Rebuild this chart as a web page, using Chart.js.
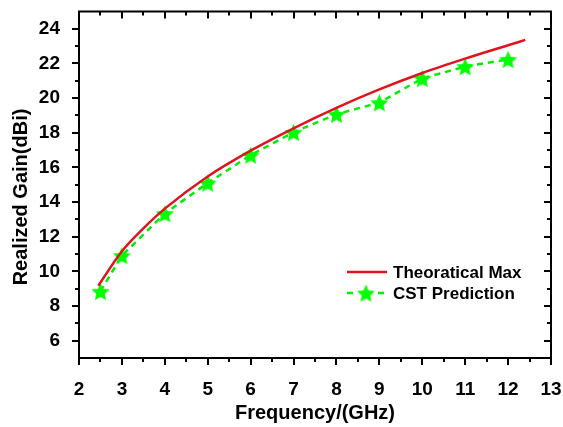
<!DOCTYPE html>
<html>
<head>
<meta charset="utf-8">
<script src="https://cdn.jsdelivr.net/npm/chart.js@4"></script>
<style>
  html, body { margin: 0; padding: 0; background: #fff; }
  #wrap { width: 563px; height: 427px; }
</style>
</head>
<body>
<div id="wrap"><canvas id="gainChart" width="563" height="427"></canvas></div>
<script>
// values
const theoFreq = [2.45, 3, 3.5, 4, 5, 6, 7, 8, 9, 10, 11, 12, 12.4];
const theoGain = [9.17, 11.16, 12.48, 13.62, 15.48, 16.97, 18.26, 19.44, 20.5, 21.45, 22.28, 23.05, 23.36];
const cstFreq = [2.5, 3, 4, 5, 6, 7, 8, 9, 10, 11, 12];
const cstGain = [8.85, 10.91, 13.34, 15.10, 16.71, 18.03, 19.07, 19.74, 21.14, 21.82, 22.24];

const xTicks = [2, 3, 4, 5, 6, 7, 8, 9, 10, 11, 12, 13];
const xMinor = [2.5, 3.5, 4.5, 5.5, 6.5, 7.5, 8.5, 9.5, 10.5, 11.5, 12.5];
const yTicks = [6, 8, 10, 12, 14, 16, 18, 20, 22, 24];
const yMinor = [7, 9, 11, 13, 15, 17, 19, 21, 23];

const seriesNames = ['Theoratical Max', 'CST Prediction'];
const xTitle = 'Frequency/(GHz)';
const yTitle = 'Realized Gain(dBi)';

const FONT = '"Liberation Sans", Arial, sans-serif';
const RED = '#e0141e';
const GREEN = '#00ee00';

// filled five point star used as point marker
function makeStar(r) {
    const c = document.createElement('canvas');
    const s = Math.ceil(r * 2 + 2);
    c.width = s; c.height = s;
    const g = c.getContext('2d');
    g.translate(s / 2, s / 2 + 1);
    g.beginPath();
    for (let i = 0; i < 10; i++) {
        const rad = i % 2 === 0 ? r : r * 0.47;
        const a = -Math.PI / 2 + i * Math.PI / 5;
        g.lineTo(rad * Math.cos(a), rad * Math.sin(a));
    }
    g.closePath();
    g.fillStyle = '#00ff00';
    g.fill();
    return c;
}
const starImg = makeStar(9.5);

function pairs(xs, ys) {
    return xs.map((x, i) => ({ x: x, y: ys[i] }));
}

// frame, inner/outer ticks, y title and legend
const framePlugin = {
    id: 'frame',
    afterDraw(chart) {
        const ctx = chart.ctx;
        const a = chart.chartArea;
        const xs = chart.scales.x, ys = chart.scales.y;
        ctx.save();
        ctx.strokeStyle = '#000';
        ctx.lineWidth = 2;
        ctx.strokeRect(a.left, a.top, a.right - a.left, a.bottom - a.top);

        function xTick(v, len) {
            const px = Math.round(xs.getPixelForValue(v));
            ctx.beginPath();
            ctx.moveTo(px, a.bottom); ctx.lineTo(px, a.bottom + len);
            ctx.moveTo(px, a.top); ctx.lineTo(px, a.top + len);
            ctx.stroke();
        }
        function yTick(v, len) {
            const py = Math.round(ys.getPixelForValue(v));
            ctx.beginPath();
            ctx.moveTo(a.left, py); ctx.lineTo(a.left - len, py);
            ctx.moveTo(a.right, py); ctx.lineTo(a.right - len, py);
            ctx.stroke();
        }
        xTicks.forEach(v => xTick(v, 7));
        xMinor.forEach(v => xTick(v, 4));
        yTicks.forEach(v => yTick(v, 7));
        yMinor.forEach(v => yTick(v, 4));

        // y axis title
        ctx.fillStyle = '#000';
        ctx.font = 'bold 20px ' + FONT;
        ctx.textAlign = 'center';
        ctx.textBaseline = 'middle';
        ctx.translate(21, 197);
        ctx.rotate(-Math.PI / 2);
        ctx.fillText(yTitle, 0, 0);
        ctx.restore();

        // legend
        ctx.save();
        const lx = 347, row1 = 272, row2 = 293;
        ctx.lineWidth = 2.5;
        ctx.strokeStyle = RED;
        ctx.beginPath();
        ctx.moveTo(lx, row1); ctx.lineTo(lx + 40, row1);
        ctx.stroke();
        ctx.strokeStyle = GREEN;
        ctx.beginPath();
        ctx.moveTo(lx, row2); ctx.lineTo(lx + 6, row2);
        ctx.moveTo(lx + 31, row2); ctx.lineTo(lx + 37, row2);
        ctx.stroke();
        ctx.drawImage(starImg, lx + 19 - starImg.width / 2, row2 - starImg.height / 2);
        ctx.fillStyle = '#000';
        ctx.font = 'bold 17px ' + FONT;
        ctx.textAlign = 'left';
        ctx.textBaseline = 'middle';
        ctx.fillText(seriesNames[0], lx + 46, row1 + 1);
        ctx.fillText(seriesNames[1], lx + 46, row2 + 1);
        ctx.restore();
    }
};

const ctx = document.getElementById('gainChart').getContext('2d');
new Chart(ctx, {
    type: 'line',
    data: {
        datasets: [{
            label: seriesNames[0],
            data: pairs(theoFreq, theoGain),
            borderColor: RED,
            borderWidth: 2.5,
            pointRadius: 0,
            cubicInterpolationMode: 'monotone',
            fill: false
        }, {
            label: seriesNames[1],
            data: pairs(cstFreq, cstGain),
            borderColor: GREEN,
            borderWidth: 2.5,
            borderDash: [6, 5],
            tension: 0,
            pointStyle: starImg,
            pointRadius: 9,
            fill: false
        }]
    },
    options: {
        responsive: false,
        animation: false,
        layout: { padding: { top: 6, right: 12, left: 0, bottom: 0 } },
        plugins: {
            legend: { display: false },
            tooltip: { enabled: false }
        },
        scales: {
            x: {
                type: 'linear',
                min: 2,
                max: 13,
                afterBuildTicks: (scale) => { scale.ticks = xTicks.map(v => ({ value: v })); },
                afterFit: (scale) => {
                    scale.height = 69;
                    scale.paddingLeft = 0;
                    scale.paddingRight = 0;
                },
                grid: { display: false },
                border: { display: false },
                ticks: {
                    color: '#000',
                    padding: 12,
                    maxRotation: 0,
                    font: { family: FONT, size: 19, weight: 'bold' }
                },
                title: {
                    display: true,
                    text: xTitle,
                    color: '#000',
                    padding: { top: 0, bottom: 2 },
                    font: { family: FONT, size: 20, weight: 'bold' }
                }
            },
            y: {
                min: 5,
                max: 25,
                afterBuildTicks: (scale) => { scale.ticks = yTicks.map(v => ({ value: v })); },
                afterFit: (scale) => {
                    scale.width = 79;
                    scale.paddingTop = 0;
                    scale.paddingBottom = 0;
                },
                grid: { display: false },
                border: { display: false },
                ticks: {
                    color: '#000',
                    padding: 11,
                    font: { family: FONT, size: 19, weight: 'bold' }
                }
            }
        }
    },
    plugins: [framePlugin]
});
</script>
</body>
</html>
